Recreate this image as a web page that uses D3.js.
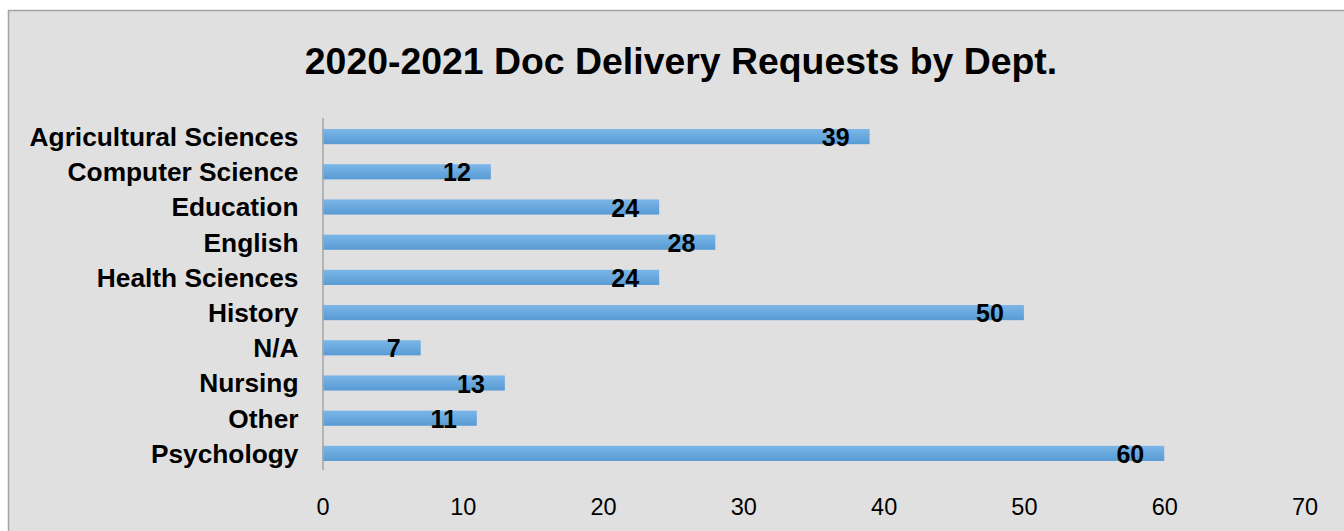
<!DOCTYPE html>
<html>
<head>
<meta charset="utf-8">
<script src="https://cdn.jsdelivr.net/npm/d3@7"></script>
<style>
  body { margin: 0; background: #fff; }
  svg { display: block; }
</style>
</head>
<body>
<svg width="1344" height="531"></svg>
<script>
const depts = ["Agricultural Sciences", "Computer Science", "Education", "English", "Health Sciences",
  "History", "N/A", "Nursing", "Other", "Psychology"]
const requests = [39, 12, 24, 28, 24, 50, 7, 13, 11, 60]
const xTicks = [0, 10, 20, 30, 40, 50, 60, 70]
const chartTitle = "2020-2021 Doc Delivery Requests by Dept."

const svg = d3.select("svg")

// chart area background + border (runs off the right/bottom edge)
svg.append("rect")
  .attr("x", 8.5).attr("y", 10.5)
  .attr("width", 1400).attr("height", 600)
  .attr("fill", "#e0e0e0")
  .attr("stroke", "#a3a3a3")
  .attr("stroke-width", 1.5)

const defs = svg.append("defs")
const grad = defs.append("linearGradient")
  .attr("id", "barGrad")
  .attr("x1", 0).attr("y1", 0).attr("x2", 0).attr("y2", 1)
grad.append("stop").attr("offset", "0%").attr("stop-color", "#7cb6e8")
grad.append("stop").attr("offset", "100%").attr("stop-color", "#579bd4")

const x = d3.scaleLinear().domain([0, 70]).range([322.5, 1304.5])
const y = d3.scaleBand()
  .domain(depts)
  .range([119, 471])
  .paddingInner(0.57)
  .paddingOuter(0.285)

svg.append("text")
  .attr("x", 681).attr("y", 74)
  .attr("text-anchor", "middle")
  .attr("font-family", "Liberation Sans, Arial, sans-serif")
  .attr("font-weight", "bold")
  .attr("font-size", "37.4px")
  .attr("fill", "#000")
  .text(chartTitle)

const data = depts.map((d, i) => ({dept: d, value: requests[i]}))

svg.selectAll("rect.bar")
  .data(data)
  .enter().append("rect")
  .attr("class", "bar")
  .attr("x", x(0))
  .attr("y", d => y(d.dept))
  .attr("width", d => x(d.value) - x(0))
  .attr("height", y.bandwidth())
  .attr("fill", "url(#barGrad)")

// category axis
const yAxis = svg.append("g")
  .attr("transform", `translate(${x(0)},0)`)
  .call(d3.axisLeft(y).tickSize(0).tickPadding(24))
yAxis.select(".domain")
  .attr("stroke", "#a6a6a6")
  .attr("stroke-width", 1.5)
  .attr("d", "M0.5,118V470")
yAxis.selectAll("text")
  .attr("font-family", "Liberation Sans, Arial, sans-serif")
  .attr("font-weight", "bold")
  .attr("font-size", "26.3px")
  .attr("fill", "#000")
  .attr("dy", "0.36em")

// value axis: labels only
const xAxis = svg.append("g")
  .attr("transform", "translate(0,498)")
  .call(d3.axisBottom(x).tickValues(xTicks).tickSize(0).tickPadding(0))
xAxis.select(".domain").remove()
xAxis.selectAll("text")
  .attr("font-family", "Liberation Sans, Arial, sans-serif")
  .attr("font-size", "23.5px")
  .attr("fill", "#000")
  .attr("dy", "0.71em")

// value labels near bar ends
svg.selectAll("text.val")
  .data(data)
  .enter().append("text")
  .attr("class", "val")
  .attr("x", d => x(d.value) - 20)
  .attr("y", d => y(d.dept) + y.bandwidth() / 2)
  .attr("dy", "0.38em")
  .attr("text-anchor", "end")
  .attr("font-family", "Liberation Sans, Arial, sans-serif")
  .attr("font-weight", "bold")
  .attr("font-size", "25px")
  .attr("fill", "#000")
  .text(d => d.value)
</script>
</body>
</html>
